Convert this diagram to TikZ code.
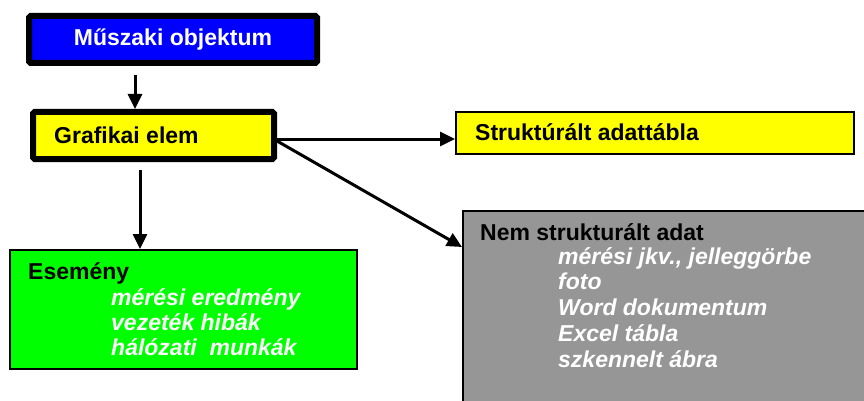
\documentclass[tikz,border=0pt]{standalone}
\usepackage{fontspec}
\setmainfont{Liberation Sans}
\usetikzlibrary{arrows.meta,calc}

\definecolor{boxblue}{RGB}{0,0,255}
\definecolor{boxyellow}{RGB}{255,255,0}
\definecolor{boxgreen}{RGB}{0,255,0}
\definecolor{boxgray}{RGB}{150,150,150}

\tikzset{
  heavybox/.style={draw=black, line width=6pt, rounded corners=1.5pt, inner sep=0pt},
  thinbox/.style={draw=black, line width=2pt, inner sep=0pt},
  conn/.style={draw=black, line width=3pt,
    -{Triangle[length=15pt,width=14pt]}},
  head/.style={font=\fontsize{23}{26}\selectfont\bfseries, text=black, inner sep=0pt, anchor=base west},
  item/.style={text=white, inner sep=0pt, anchor=base west, align=left},
}

\begin{document}
\begin{tikzpicture}[x=1pt, y=-1pt]
  \clip (0,0) rectangle (864,401);
  \fill[white] (0,0) rectangle (864,401);

  % boxes
  \node[heavybox, fill=boxblue, minimum width=288pt, minimum height=47pt] (musz) at (173,39.5) {};
  \node[heavybox, fill=boxyellow, minimum width=241pt, minimum height=47pt] (graf) at (153.5,135.5) {};
  \node[thinbox, fill=boxyellow, minimum width=398pt, minimum height=42pt] (strukt) at (655,133) {};
  \node[thinbox, fill=boxgreen, minimum width=347pt, minimum height=119pt] (esem) at (183.5,309.5) {};
  \node[thinbox, fill=boxgray, minimum width=417pt, minimum height=209pt] (nemstr) at (671.5,315.5) {};

  % box texts (multi-line lists are anchored at the baseline of their last line)
  \node[font=\fontsize{23}{26}\selectfont\bfseries, text=white, inner sep=0pt] (muszt) at (musz.center) {Műszaki objektum};
  \node[head] (graft) at (54,143) {Grafikai elem};
  \node[head] (struktt) at (475,140) {Struktúrált adattábla};
  \node[head] (esemt) at (28,279) {Esemény};
  \node[item, font=\fontsize{23}{25}\selectfont\bfseries\itshape] (esemi) at (111,355)
    {mérési eredmény\\vezeték hibák\\hálózati\ \ munkák};
  \node[head] (nemstrt) at (480,240) {Nem strukturált adat};
  \node[item, font=\fontsize{23}{25.7}\selectfont\bfseries\itshape] (nemstri) at (558,367)
    {mérési jkv., jelleggörbe\\foto\\Word dokumentum\\Excel tábla\\szkennelt ábra};

  % connector end points
  \coordinate (mfoot) at ([xshift=-38pt]musz.south);
  \coordinate (gfoot) at ([xshift=-13.5pt]graf.south);
  \coordinate (gright) at ($(graf.east)+(0,3.5)$);
  \coordinate (gdiag) at ($(graf.east)+(0,5.5)$);
  \coordinate (nentry) at ($(nemstr.north west)+(0,37)$);

  % connectors
  \draw[conn, shorten <=9pt] (mfoot) -- (mfoot |- graf.north);
  \draw[conn, shorten <=8pt] (gfoot) -- (gfoot |- esem.north);
  \draw[conn] (gright) -- (gright -| strukt.west);
  \draw[conn] (gdiag) -- (nentry);
\end{tikzpicture}
\end{document}
